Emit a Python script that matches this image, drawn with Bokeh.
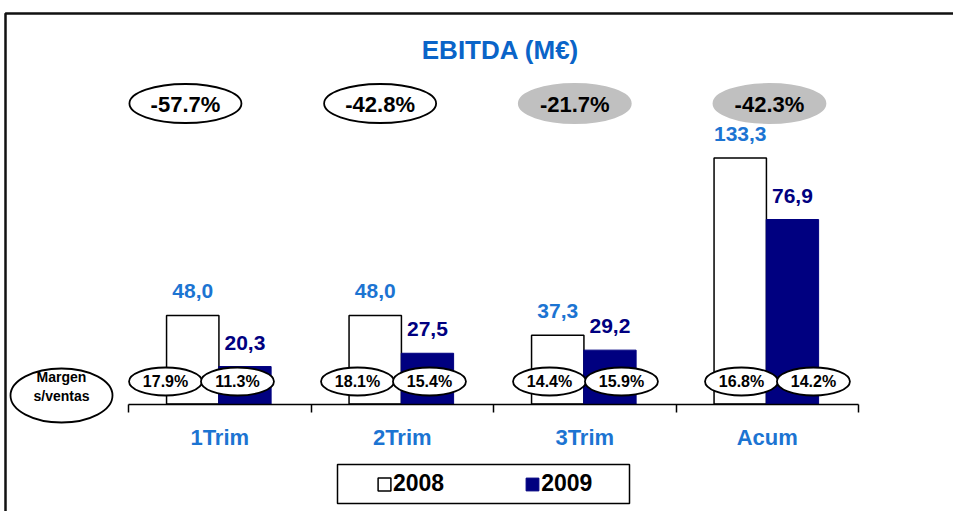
from bokeh.plotting import figure
from bokeh.models import Range1d, LinearAxis, FixedTicker, Legend, LegendItem
from bokeh.core.properties import value
from bokeh.embed import file_html
from bokeh.resources import INLINE

# ---------------- data ----------------
categories = ["1Trim", "2Trim", "3Trim", "Acum"]
series = ["2008", "2009"]
ebitda_2008 = [48.0, 48.0, 37.3, 133.3]
ebitda_2009 = [20.3, 27.5, 29.2, 100.0]          # bar heights as drawn in the picture
labels_2008 = ["48,0", "48,0", "37,3", "133,3"]
labels_2009 = ["20,3", "27,5", "29,2", "76,9"]
change_pct = ["-57.7%", "-42.8%", "-21.7%", "-42.3%"]
change_highlight = [False, False, True, True]
margin_2008 = ["17.9%", "18.1%", "14.4%", "16.8%"]
margin_2009 = ["11.3%", "15.4%", "15.9%", "14.2%"]
title_text = "EBITDA (M€)"
margin_caption = "Margen\ns/ventas"

# ---------------- layout / style ----------------
W, H = 953, 511
AX_LEFT = 128            # px of x = 0
UNIT_X = 182.5           # px per category
BASE = 403.5             # px of y = 0
UNIT_Y = 1.845           # px per M€
FONT = value("Liberation Sans")
BLUE = "#1C74D2"
TITLE_BLUE = "#0A64C8"
NAVY = "#000080"
GREY = "#C0C0C0"
BAR_W = 0.287


def fx(px):
    return (px - AX_LEFT) / UNIT_X


def fy(py):
    return (BASE - py) / UNIT_Y


p = figure(width=W, height=H, output_backend="svg", toolbar_location=None,
           x_range=Range1d(-AX_LEFT / UNIT_X, (W - AX_LEFT) / UNIT_X),
           y_range=Range1d(-(H - BASE) / UNIT_Y, BASE / UNIT_Y),
           x_axis_type=None, y_axis_type=None, min_border=0,
           outline_line_color=None, background_fill_color="white",
           border_fill_color="white")

idx = list(range(len(categories)))
x08 = [i + 0.352 for i in idx]
x09 = [i + 0.638 for i in idx]

# frame lines (top and left)
p.line(x=[fx(5), fx(5), fx(970)], y=[fy(530), fy(13), fy(13)],
       line_color="#111111", line_width=2.5)

# bars
r08 = p.vbar(x=x08, top=ebitda_2008, bottom=0, width=BAR_W,
             fill_color="white", line_color="black", line_width=1.5)
r09 = p.vbar(x=x09, top=ebitda_2009, bottom=0, width=BAR_W,
             fill_color=NAVY, line_color=NAVY, line_width=1)

# value labels
p.text(x=x08, y=ebitda_2008, text=labels_2008, y_offset=-24,
       text_align="center", text_baseline="middle", text_font=FONT,
       text_font_style="bold", text_font_size="21px", text_color=BLUE)
p.text(x=x09, y=ebitda_2009, text=labels_2009, y_offset=-24,
       text_align="center", text_baseline="middle", text_font=FONT,
       text_font_style="bold", text_font_size="21px", text_color=NAVY)

# change ellipses on top
cx = [0.312 + 1.0667 * i for i in idx]
cy = [fy(103)] * len(idx)
p.ellipse(x=cx, y=cy, width=112, height=39, width_units="screen",
          height_units="screen",
          fill_color=[GREY if h else "white" for h in change_highlight],
          line_color=[GREY if h else "black" for h in change_highlight],
          line_width=1.8)
p.text(x=cx, y=[fy(104)] * len(idx), text=change_pct, text_align="center",
       text_baseline="middle", text_font=FONT, text_font_style="bold",
       text_font_size="22px", text_color="black")

# margin ellipses
mx08 = [0.203 + 1.052 * i for i in idx]
mx09 = [0.597 + 1.052 * i for i in idx]
my = [fy(381)] * len(idx)
for mx, txt in ((mx08, margin_2008), (mx09, margin_2009)):
    p.ellipse(x=mx, y=my, width=73, height=28, width_units="screen",
              height_units="screen", fill_color="white", line_color="black",
              line_width=1.8)
    p.text(x=mx, y=my, text=txt, text_align="center", text_baseline="middle",
           text_font=FONT, text_font_style="bold", text_font_size="16px",
           text_color="black")

# caption ellipse
p.ellipse(x=[fx(61)], y=[fy(395)], width=102, height=54, width_units="screen",
          height_units="screen", fill_color="white", line_color="black",
          line_width=1.8)
p.text(x=[fx(61)], y=[fy(386)], text=[margin_caption], text_align="center",
       text_baseline="middle", text_font=FONT, text_font_style="bold",
       text_font_size="14px", text_color="black", text_line_height=1.2)

# title
p.text(x=[fx(500)], y=[fy(49)], text=[title_text], text_align="center",
       text_baseline="middle", text_font=FONT, text_font_style="bold",
       text_font_size="26px", text_color=TITLE_BLUE)

# category axis at y = 0
ax = LinearAxis(fixed_location=0, bounds=(0, len(categories)),
                ticker=FixedTicker(ticks=[i + 0.5 for i in idx],
                                   minor_ticks=list(range(len(categories) + 1))),
                major_label_overrides={i + 0.5: c for i, c in zip(idx, categories)})
ax.axis_line_color = "black"
ax.axis_line_width = 1.5
ax.major_tick_line_color = None
ax.major_tick_in = 0
ax.major_tick_out = 0
ax.minor_tick_line_color = "black"
ax.minor_tick_line_width = 1.5
ax.minor_tick_in = 0
ax.minor_tick_out = 8
ax.major_label_standoff = 13
ax.major_label_text_font = "Liberation Sans"
ax.major_label_text_font_style = "bold"
ax.major_label_text_font_size = "22px"
ax.major_label_text_color = BLUE
p.add_layout(ax, "below")

# legend box + legend
p.quad(left=[fx(337)], right=[fx(629)], top=[fy(464)], bottom=[fy(503)],
       fill_color=None, line_color="black", line_width=1.5)
legend = Legend(items=[LegendItem(label=series[0], renderers=[r08]),
                       LegendItem(label=series[1], renderers=[r09])],
                orientation="horizontal", location=(376, 14), margin=0,
                padding=5, spacing=80, glyph_width=16, glyph_height=16,
                label_standoff=1, border_line_color=None,
                background_fill_alpha=0, label_text_font="Liberation Sans",
                label_text_font_style="bold", label_text_font_size="23px",
                label_text_color="black")
p.add_layout(legend)

open("out.html", "w").write(file_html(p, INLINE))
